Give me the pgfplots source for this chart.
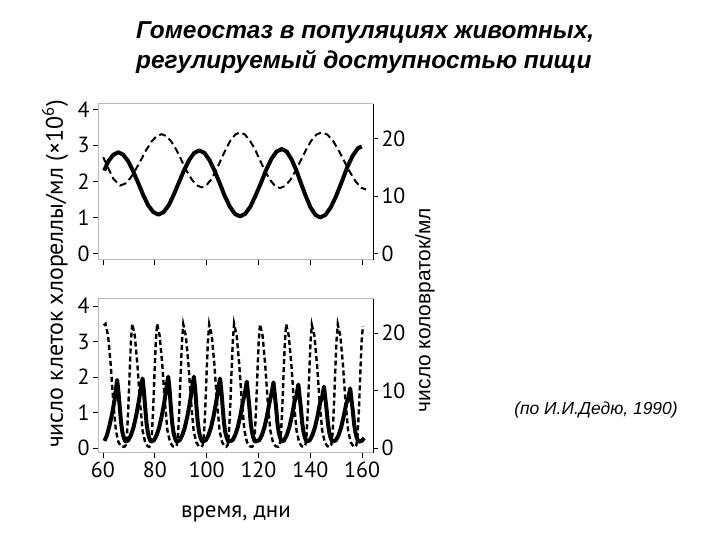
\documentclass[border=0pt]{standalone}
\usepackage{fontspec}
\setmainfont{PT Sans}
\newfontfamily\arial{Liberation Sans}
\usepackage{pgfplots}
\pgfplotsset{compat=1.18}

\pgfplotsset{
  panel/.style={
    scale only axis, width=275bp,
    xmin=58.1, xmax=164.2,
    /pgf/number format/assume math mode=true,
    tick label style={font=\fontsize{22}{22}\selectfont, black},
    tick style={black, line width=0.8bp},
    major tick length=5bp,
    tick align=outside,
  },
  chl/.style={black, line width=4bp, line join=round, no marks},
  rot/.style={black, line width=2bp, dash pattern=on 7bp off 4bp, no marks},
}

\begin{document}
\begin{tikzpicture}[x=1bp,y=1bp]
\path (0,0) rectangle (720,540);

% ---- top panel ----
\begin{axis}[panel, at={(98bp,280bp)}, anchor=south west, height=156bp,
  ymin=-0.18, ymax=4.15, ytick={0,1,2,3,4},
  xtick={60,80,...,160}, xticklabels={}, xtick pos=left,
  axis y line*=left, axis line style={gray!55, line width=1bp}]
\addplot[chl] coordinates {
(60.5,2.30) (62,2.55) (64,2.74) (65.9,2.81) (67.8,2.744) (69.8,2.557) (71.7,2.276)
(73.7,1.945) (75.6,1.614) (77.5,1.333) (79.5,1.146) (81.4,1.08) (83.4,1.148)
(85.4,1.341) (87.3,1.629) (89.3,1.97) (91.3,2.311) (93.3,2.599) (95.2,2.792)
(97.2,2.86) (99.2,2.79) (101.1,2.592) (103.1,2.295) (105.1,1.945) (107.0,1.595)
(109.0,1.298) (110.9,1.10) (112.9,1.03) (114.9,1.101) (116.9,1.304) (118.9,1.607)
(121.0,1.965) (123.0,2.323) (125.0,2.626) (127.0,2.829) (129.0,2.90) (130.9,2.828)
(132.7,2.622) (134.6,2.314) (136.4,1.95) (138.3,1.586) (140.1,1.278) (142.0,1.072)
(143.8,1.00) (145.9,1.076) (148.0,1.293) (150.1,1.617) (152.2,2.0) (154.2,2.383)
(156.3,2.707) (158.4,2.924) (159.9,2.97)};
\end{axis}
\begin{axis}[panel, at={(98bp,280bp)}, anchor=south west, height=156bp,
  ymin=-1.13, ymax=26.0, ytick={0,10,20},
  axis x line=none, axis y line*=right, axis line style={black, line width=1bp}]
\addplot[rot] coordinates {
(60.1,16.75) (62,14.88) (64,13.0) (66.6,11.81) (68.6,12.15) (70.6,13.12) (72.6,14.57)
(74.7,16.28) (76.7,17.99) (78.7,19.44) (80.7,20.41) (82.7,20.75) (84.6,20.4)
(86.5,19.39) (88.5,17.89) (90.4,16.13) (92.3,14.36) (94.3,12.86) (96.2,11.85)
(98.1,11.5) (99.95,11.86) (101.8,12.9) (103.7,14.45) (105.5,16.28) (107.4,18.11)
(109.2,19.66) (111.1,20.7) (112.9,21.06) (114.8,20.69) (116.7,19.64) (118.7,18.08)
(120.6,16.22) (122.5,14.36) (124.5,12.79) (126.4,11.74) (128.3,11.38) (130.3,11.74)
(132.3,12.79) (134.3,14.36) (136.35,16.22) (138.4,18.08) (140.4,19.64) (142.4,20.69)
(144.4,21.06) (146.6,20.68) (148.75,19.6) (150.9,17.98) (153.1,16.06) (155.3,14.15)
(157.5,12.53) (159.6,11.44) (161.5,11.13)};
\end{axis}

% ---- bottom panel ----
\begin{axis}[panel, at={(98bp,87bp)}, anchor=south west, height=154bp,
  ymin=-0.14, ymax=4.2, ytick={0,1,2,3,4},
  xtick={60,80,...,160}, xtick pos=left,
  axis y line*=left, axis line style={gray!55, line width=1bp}]
\addplot[chl] coordinates {
(60.6,0.20) (61.5,0.35) (62.5,0.62) (63.5,0.95) (64.5,1.35) (65.0,1.65) (65.5,1.92)
(66.0,1.57) (66.5,1.15) (67.0,0.72) (67.5,0.45) (68.0,0.30) (68.5,0.21) (68.8,0.18)
(69.8,0.22) (70.8,0.36) (71.8,0.58) (72.8,0.90) (73.8,1.30) (74.6,1.66) (75.3,1.96)
(75.8,1.61) (76.3,1.15) (76.8,0.72) (77.3,0.45) (77.8,0.30) (78.3,0.21) (78.6,0.18)
(79.7,0.22) (80.7,0.36) (81.7,0.58) (82.7,0.90) (83.7,1.30) (84.5,1.71) (85.2,2.01)
(85.7,1.66) (86.2,1.15) (86.7,0.72) (87.2,0.45) (87.7,0.30) (88.2,0.21) (88.5,0.18)
(89.6,0.22) (90.6,0.36) (91.6,0.58) (92.6,0.90) (93.6,1.30) (94.4,1.71) (95.1,2.01)
(95.6,1.66) (96.1,1.15) (96.6,0.72) (97.1,0.45) (97.6,0.30) (98.1,0.21) (98.4,0.18)
(99.7,0.22) (100.7,0.36) (101.7,0.58) (102.7,0.90) (103.7,1.30) (104.5,1.66) (105.2,1.96)
(105.7,1.61) (106.2,1.15) (106.7,0.72) (107.2,0.45) (107.7,0.30) (108.2,0.21) (108.5,0.18)
(110.0,0.22) (111.0,0.36) (112.0,0.58) (113.0,0.90) (114.0,1.30) (114.8,1.57) (115.5,1.87)
(116.0,1.52) (116.5,1.15) (117.0,0.72) (117.5,0.45) (118.0,0.30) (118.5,0.21) (118.8,0.18)
(120.3,0.22) (121.3,0.36) (122.3,0.58) (123.3,0.90) (124.3,1.30) (125.1,1.55) (125.8,1.85)
(126.3,1.50) (126.8,1.15) (127.3,0.72) (127.8,0.45) (128.3,0.30) (128.8,0.21) (129.1,0.18)
(129.9,0.22) (130.9,0.36) (131.9,0.58) (132.9,0.90) (133.9,1.30) (134.7,1.49) (135.4,1.79)
(135.9,1.44) (136.4,1.10) (136.9,0.70) (137.4,0.45) (137.9,0.30) (138.4,0.21) (138.7,0.18)
(139.8,0.22) (140.8,0.36) (141.8,0.58) (142.8,0.90) (143.8,1.28) (144.6,1.45) (145.3,1.73)
(145.8,1.40) (146.3,1.08) (146.8,0.70) (147.3,0.45) (147.8,0.30) (148.3,0.21) (148.6,0.18)
(149.9,0.22) (150.9,0.36) (151.9,0.58) (152.9,0.90) (153.9,1.25) (154.7,1.42) (155.4,1.68)
(155.9,1.36) (156.4,1.05) (156.9,0.68) (157.4,0.45) (157.9,0.30) (158.4,0.21) (158.8,0.18)
(159.8,0.20) (160.8,0.28)};
\end{axis}
\begin{axis}[panel, at={(98bp,87bp)}, anchor=south west, height=154bp,
  ymin=-0.87, ymax=25.9, ytick={0,10,20},
  axis x line=none, axis y line*=right, axis line style={black, line width=1bp}]
\addplot[rot, line width=2.4bp, dash pattern=on 5bp off 3bp] coordinates {
(60.3,21.3) (61.0,21.6) (62.0,19.5) (63.0,14.5) (64.0,8) (65.0,3) (66.0,1.0) (67.0,0.3)
(68.3,0.2) (68.8,0.5) (69.3,2.5) (69.8,7) (70.3,13) (70.8,18.5) (71.3,21.6)
(72.3,19.5) (73.3,14.5) (74.3,8) (75.3,3) (76.3,1.0) (77.3,0.3)
(77.9,0.2) (78.4,0.5) (78.9,2.5) (79.4,7) (79.9,13) (80.4,18.5) (80.9,21.6)
(81.9,19.5) (82.9,14.5) (83.9,8) (84.9,3) (85.9,1.0) (86.9,0.3)
(88.0,0.2) (88.5,0.5) (89.0,2.5) (89.5,7) (90.0,13) (90.5,18.5) (91.0,21.5)
(92.0,19.5) (93.0,14.5) (94.0,8) (95.0,3) (96.0,1.0) (97.0,0.3)
(98.0,0.2) (98.5,0.5) (99.0,2.5) (99.5,7) (100.0,13) (100.5,18.5) (101.0,21.5)
(102.0,19.5) (103.0,14.5) (104.0,8) (105.0,3) (106.0,1.0) (107.0,0.3)
(107.6,0.2) (108.1,0.5) (108.6,2.5) (109.1,7) (109.6,13) (110.1,18.5) (110.6,21.6)
(111.6,19.5) (112.6,14.5) (113.6,8) (114.6,3) (115.6,1.0) (116.6,0.3)
(117.6,0.2) (118.1,0.5) (118.6,2.5) (119.1,7) (119.6,13) (120.1,18.5) (120.6,21.5)
(121.6,19.5) (122.6,14.5) (123.6,8) (124.6,3) (125.6,1.0) (126.6,0.3)
(127.7,0.2) (128.2,0.5) (128.7,2.5) (129.2,7) (129.7,13) (130.2,18.5) (130.7,21.5)
(131.7,19.5) (132.7,14.5) (133.7,8) (134.7,3) (135.7,1.0) (136.7,0.3)
(137.6,0.2) (138.1,0.5) (138.6,2.5) (139.1,7) (139.6,13) (140.1,18.5) (140.6,21.4)
(141.6,19.5) (142.6,14.5) (143.6,8) (144.6,3) (145.6,1.0) (146.6,0.3)
(147.6,0.2) (148.1,0.5) (148.6,2.5) (149.1,7) (149.6,13) (150.1,18.5) (150.6,21.5)
(151.6,19.5) (152.6,14.5) (153.6,8) (154.6,3) (155.6,1.0) (156.6,0.3)
(157.3,0.2) (157.8,0.5) (158.3,2.5) (158.8,7) (159.3,13) (159.8,18.5) (160.3,21.2)};
\end{axis}

% ---- labels ----
\node[rotate=90, font=\fontsize{24}{24}\selectfont] at (55,266)
  {число клеток хлореллы/мл (×10\textsuperscript{6})};
\node[rotate=90, font=\arial\fontsize{21}{21}\selectfont] at (425,230)
  {число коловраток/мл};
\node[font=\fontsize{23}{23}\selectfont] at (236,26) {время, дни};
\node[anchor=north west, align=left, inner sep=0pt,
  font=\arial\bfseries\itshape\fontsize{24.5}{30}\selectfont] at (136,518)
  {Гомеостаз в популяциях животных,\\регулируемый доступностью пищи};
\node[font=\arial\itshape\fontsize{17.5}{17.5}\selectfont] at (596,130)
  {(по И.И.Дедю, 1990)};
\end{tikzpicture}
\end{document}
